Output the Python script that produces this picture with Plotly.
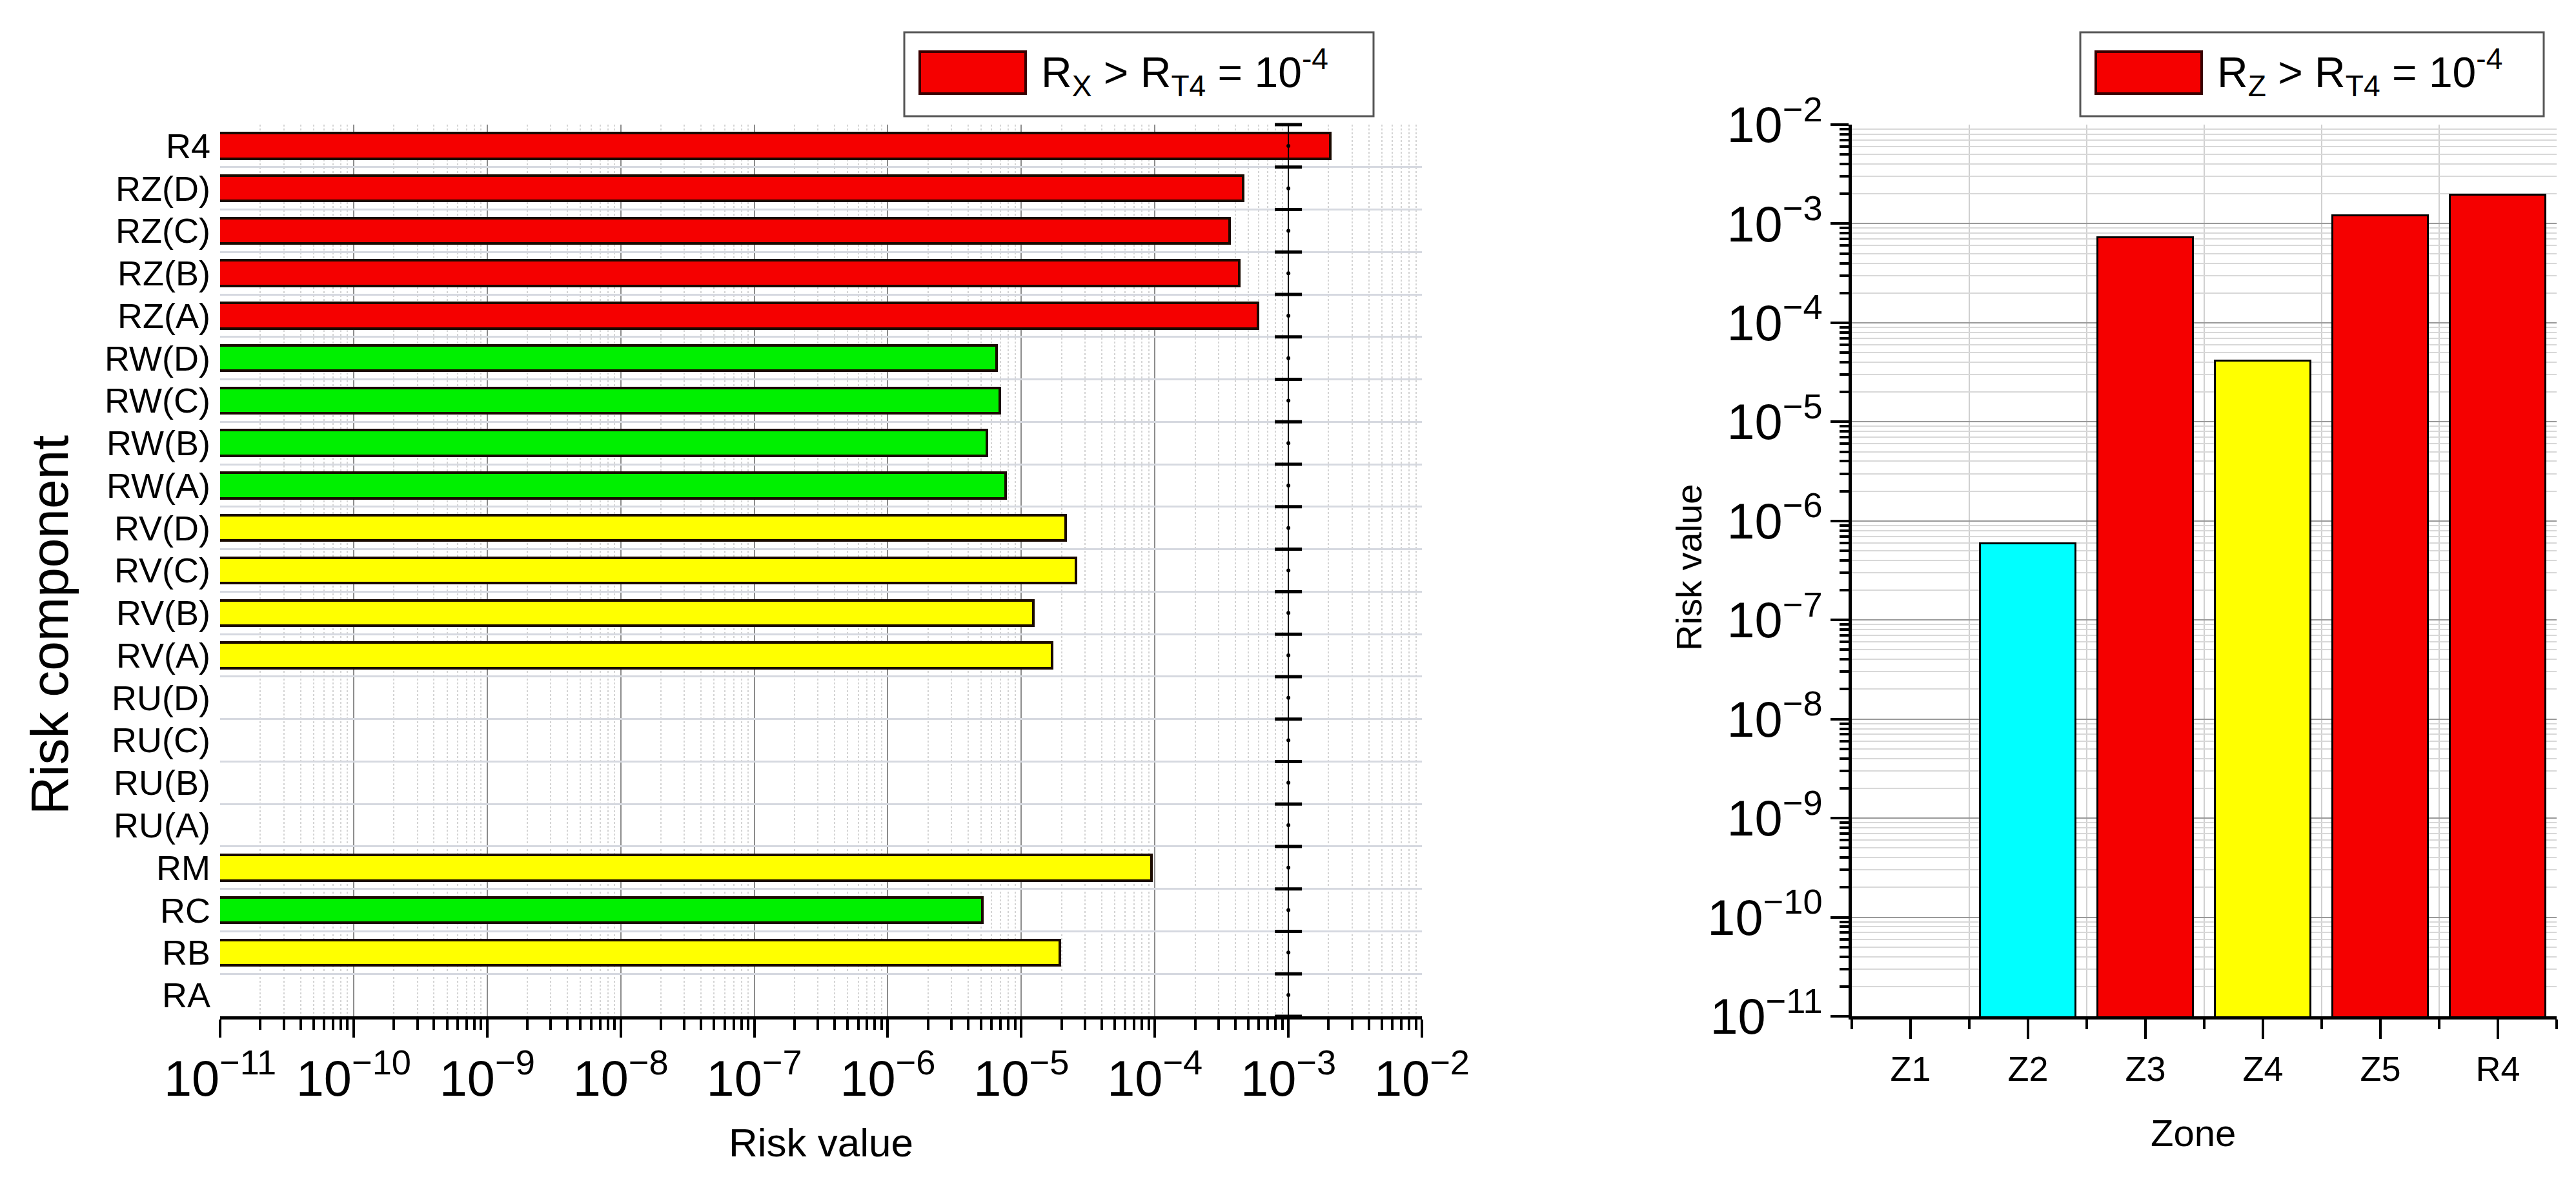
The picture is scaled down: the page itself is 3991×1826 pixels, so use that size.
import plotly.graph_objects as go

# ---------------- data ----------------
# left chart: risk components (bottom -> top)
components = ["RA", "RB", "RC", "RM", "RU(A)", "RU(B)", "RU(C)", "RU(D)",
              "RV(A)", "RV(B)", "RV(C)", "RV(D)",
              "RW(A)", "RW(B)", "RW(C)", "RW(D)",
              "RZ(A)", "RZ(B)", "RZ(C)", "RZ(D)", "R4"]
component_values = [None, 1.95e-5, 5.1e-6, 9.4e-5, None, None, None, None,
                    1.7e-5, 1.23e-5, 2.57e-5, 2.14e-5,
                    7.6e-6, 5.5e-6, 6.9e-6, 6.5e-6,
                    5.9e-4, 4.27e-4, 3.63e-4, 4.57e-4, 2.06e-3]
component_levels = ["none", "yellow", "green", "yellow", "none", "none", "none", "none",
                    "yellow", "yellow", "yellow", "yellow",
                    "green", "green", "green", "green",
                    "red", "red", "red", "red", "red"]

# right chart: zones
zones = ["Z1", "Z2", "Z3", "Z4", "Z5", "R4"]
zone_values = [None, 5.9e-7, 7.2e-4, 4.1e-5, 1.2e-3, 1.95e-3]
zone_levels = ["none", "cyan", "red", "yellow", "red", "red"]

threshold_line = 1e-3
log_range = [-11, -2]

level_colors = {"red": "#f50000", "green": "#00f000", "yellow": "#ffff00",
                "cyan": "#00ffff", "none": "rgba(0,0,0,0)"}

W, H = 3991, 1826
FONT = "Arial, Liberation Sans, sans-serif"


def px(x):
    return x / W


def py(y):
    return 1 - y / H


# plot areas (pixel positions in the page)
L_X0, L_X1 = 333, 2195
R_X0, R_X1 = 2861, 3953
Y_TOP, Y_BOT = 185, 1566

fig = go.Figure()

# ---------------- left chart ----------------
fig.add_trace(go.Bar(
    y=components, x=component_values, orientation="h",
    marker=dict(color=[level_colors[c] for c in component_levels],
                line=dict(color="#1a0a00", width=4)),
    width=0.6, xaxis="x", yaxis="y", showlegend=False,
))

n = len(components)
boundaries = [i - 0.5 for i in range(n + 1)]
fig.add_trace(go.Scatter(
    x=[threshold_line] * len(boundaries), y=boundaries,
    mode="lines+markers",
    line=dict(color="black", width=2),
    marker=dict(symbol="line-ew", size=30, line=dict(color="black", width=5)),
    xaxis="x", yaxis="y3", showlegend=False, cliponaxis=False,
))
fig.add_trace(go.Scatter(
    x=[threshold_line] * n, y=list(range(n)),
    mode="markers", marker=dict(symbol="circle", size=6, color="black"),
    xaxis="x", yaxis="y3", showlegend=False,
))

# ---------------- right chart ----------------
fig.add_trace(go.Bar(
    x=list(range(len(zones))), y=zone_values,
    marker=dict(color=[level_colors[c] for c in zone_levels],
                line=dict(color="black", width=3)),
    width=0.81, xaxis="x2", yaxis="y2", showlegend=False,
))

tick_font = dict(family=FONT, size=62, color="black")

fig.update_layout(
    width=W, height=H,
    margin=dict(l=0, r=0, t=0, b=0, autoexpand=False),
    paper_bgcolor="white", plot_bgcolor="white",
    font=dict(family=FONT, color="black"),
    bargap=0,
    xaxis=dict(
        domain=[px(L_X0), px(L_X1)], anchor="y", automargin=False,
        type="log", range=log_range, dtick=1,
        exponentformat="power", showexponent="all",
        tickfont=tick_font,
        showline=True, linecolor="black", linewidth=5,
        ticks="outside", ticklen=28, tickwidth=4, tickcolor="black",
        showgrid=True, gridcolor="#8c8c8c", gridwidth=2,
        minor=dict(dtick="D1", ticks="outside", ticklen=16, tickwidth=4,
                   tickcolor="black", showgrid=True, gridcolor="#d4d4d4",
                   gridwidth=2, griddash="dot"),
        zeroline=False,
    ),
    yaxis=dict(
        domain=[py(Y_BOT), py(Y_TOP)], anchor="x", automargin=False,
        type="category", categoryorder="array", categoryarray=components,
        range=[-0.5, n - 0.5],
        tickmode="linear", tick0=0, dtick=1,
        tickson="boundaries", ticks="",
        tickfont=dict(family=FONT, size=54, color="black"),
        ticklabelstandoff=14,
        showgrid=True, gridcolor="#d6d9e0", gridwidth=3,
        showline=False, zeroline=False,
    ),
    yaxis3=dict(
        overlaying="y", anchor="x", range=[-0.5, n - 0.5], automargin=False,
        visible=False, showgrid=False, zeroline=False,
    ),
    xaxis2=dict(
        domain=[px(R_X0), px(R_X1)], anchor="y2", automargin=False,
        range=[-0.5, len(zones) - 0.5],
        tickmode="array", tickvals=list(range(len(zones))), ticktext=zones,
        tickfont=dict(family=FONT, size=54, color="black"),
        showline=True, linecolor="black", linewidth=5,
        ticks="outside", ticklen=30, tickwidth=4, tickcolor="black",
        showgrid=False, zeroline=False,
        minor=dict(tick0=0.5, dtick=1, ticks="outside", ticklen=15, tickwidth=4,
                   tickcolor="black", showgrid=True, gridcolor="#d0d0d0", gridwidth=2),
    ),
    yaxis2=dict(
        domain=[py(Y_BOT), py(Y_TOP)], anchor="x2", automargin=False,
        type="log", range=log_range, dtick=1,
        exponentformat="power", showexponent="all",
        tickfont=tick_font,
        showline=True, linecolor="black", linewidth=5,
        ticks="outside", ticklen=28, tickwidth=4, tickcolor="black",
        showgrid=True, gridcolor="#9a9a9a", gridwidth=2,
        minor=dict(dtick="D1", ticks="outside", ticklen=14, tickwidth=4,
                   tickcolor="black", showgrid=True, gridcolor="#d8d8d8", gridwidth=2),
        zeroline=False,
    ),
)

# ---------------- axis titles ----------------
title_common = dict(xref="paper", yref="paper", showarrow=False,
                    xanchor="center", yanchor="middle")
fig.add_annotation(text="Risk value", x=px((L_X0 + L_X1) / 2), y=py(1761),
                   font=dict(family=FONT, size=62, color="black"), **title_common)
fig.add_annotation(text="Risk component", x=px(68), y=py(960), textangle=-90,
                   font=dict(family=FONT, size=82, color="black"), **title_common)
fig.add_annotation(text="Zone", x=px(3390), y=py(1746),
                   font=dict(family=FONT, size=58, color="black"), **title_common)
fig.add_annotation(text="Risk value", x=px(2609), y=py(871), textangle=-90,
                   font=dict(family=FONT, size=56, color="black"), **title_common)

# ---------------- legends (drawn boxes) ----------------
legends = [
    (1393, 2120, "R<sub>X</sub> > R<sub>T4</sub> = 10<sup>-4</sup>"),
    (3215, 3933, "R<sub>Z</sub> > R<sub>T4</sub> = 10<sup>-4</sup>"),
]
for x0, x1, label in legends:
    fig.add_shape(type="rect", xref="paper", yref="paper",
                  x0=px(x0), x1=px(x1), y0=py(172), y1=py(42),
                  line=dict(color="#555555", width=3), fillcolor="white")
    fig.add_shape(type="rect", xref="paper", yref="paper",
                  x0=px(x0 + 24), x1=px(x0 + 188), y0=py(137), y1=py(72),
                  line=dict(color="#3a0000", width=4), fillcolor=level_colors["red"])
    fig.add_annotation(text=label, x=px(x0 + 210), y=py(104),
                       xref="paper", yref="paper", xanchor="left", yanchor="middle",
                       showarrow=False, font=dict(family=FONT, size=66, color="black"))

fig.write_html("out.html")
